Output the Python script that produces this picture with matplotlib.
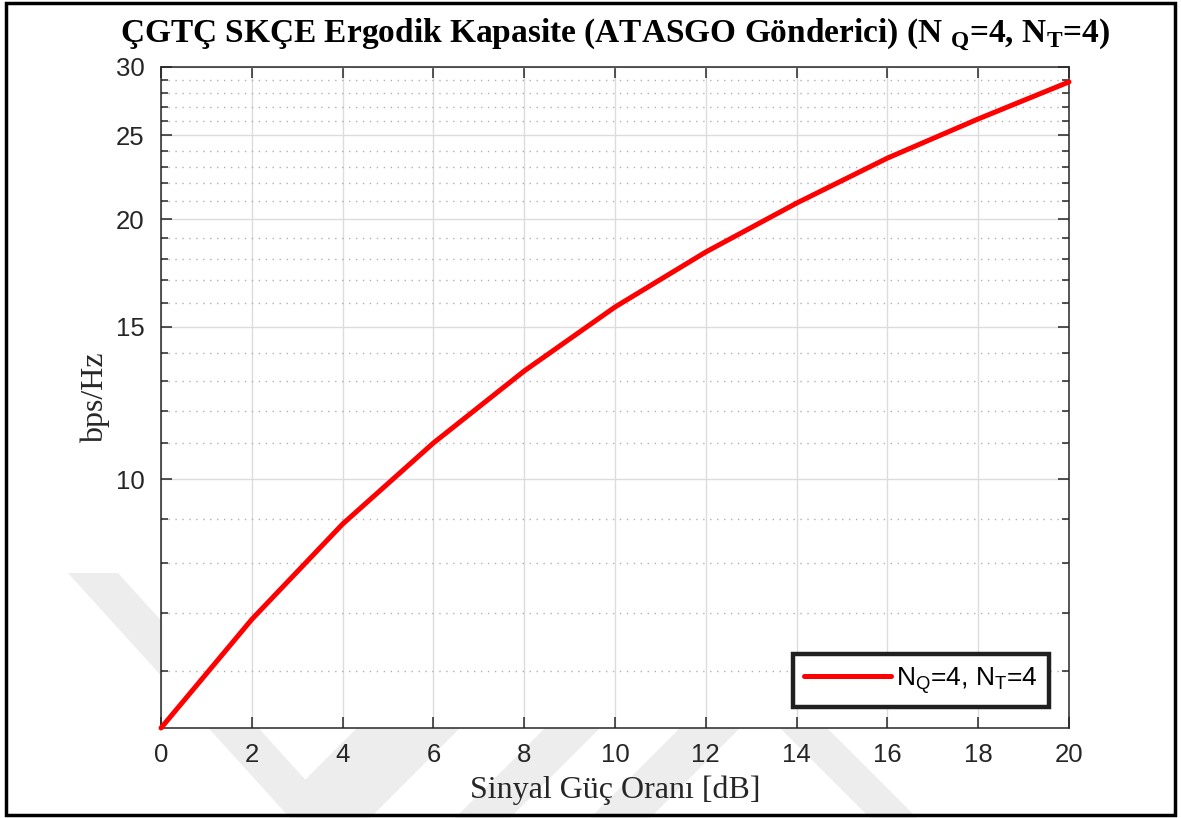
import matplotlib
matplotlib.use('Agg')
import matplotlib.pyplot as plt
from matplotlib.patches import Polygon, Rectangle
from matplotlib.ticker import FixedLocator, NullFormatter

plt.rcParams['mathtext.fontset'] = 'custom'
plt.rcParams['mathtext.rm'] = 'Liberation Serif'
plt.rcParams['mathtext.bf'] = 'Liberation Serif:bold'
plt.rcParams['mathtext.sf'] = 'Liberation Sans'

# data
snr_db = [0, 2, 4, 6, 8, 10, 12, 14, 16, 18, 20]
capacity = [5.15, 6.88, 8.87, 11.01, 13.34, 15.82, 18.32, 20.87, 23.53, 26.12, 28.83]
y_major = [10, 15, 20, 25, 30]
y_minor = [6, 7, 8, 9, 11, 12, 13, 14, 16, 17, 18, 19, 21, 22, 23, 24, 26, 27, 28, 29]
x_ticks = [0, 2, 4, 6, 8, 10, 12, 14, 16, 18, 20]

W, H = 1181, 818
fig = plt.figure(figsize=(W / 100, H / 100), dpi=100)


def px(pts):
    # pixel coords (y down) -> figure fraction
    return [(x / W, 1 - y / H) for x, y in pts]


# faint watermark behind the axes
wm = '#ededed'
shapes = [
    [(68, 573), (118, 573), (340, 818), (290, 818)],
    [(300, 785), (545, 540), (600, 540), (335, 818)],
    [(400, 728), (460, 728), (370, 818), (310, 818)],
    [(545, 728), (600, 728), (510, 818), (455, 818)],
    [(680, 728), (740, 728), (650, 818), (590, 818)],
    [(780, 728), (827, 728), (917, 818), (870, 818)],
]
for s in shapes:
    fig.patches.append(Polygon(px(s), closed=True, transform=fig.transFigure,
                               color=wm, lw=0, zorder=-5))

ax = fig.add_axes([161 / W, 1 - 728 / H, (1069 - 161) / W, (728 - 67) / H])
ax.set_facecolor('white')
ax.plot(snr_db, capacity, color='red', lw=3.6, label=r'N$_\mathsf{Q}$=4, N$_\mathsf{T}$=4',
        solid_capstyle='round', zorder=3, clip_on=False)

ax.set_yscale('log')
ax.set_xlim(0, 20)
ax.set_ylim(min(capacity), 30)
ax.set_xticks(x_ticks)
ax.yaxis.set_major_locator(FixedLocator(y_major))
ax.yaxis.set_minor_locator(FixedLocator(y_minor))
ax.yaxis.set_minor_formatter(NullFormatter())
ax.set_yticklabels([str(v) for v in y_major])

ax.grid(True, which='major', color='#dcdcdc', lw=1.0)
ax.grid(True, which='minor', axis='y', color='#b0b0b0', lw=1.0, ls=(0, (1, 4)))
ax.tick_params(which='both', direction='in', top=True, right=True, colors='#262626',
               labelsize=18.5, labelfontfamily='Liberation Sans', width=1.1)
ax.tick_params(which='major', length=8)
ax.tick_params(which='minor', length=5)
ax.tick_params(axis='x', pad=11)
ax.tick_params(axis='y', pad=12)
for s in ax.spines.values():
    s.set_color('#262626')
    s.set_linewidth(1.1)

ax.set_xlabel('Sinyal Güç Oranı [dB]', fontfamily='Liberation Serif', fontsize=23,
              color='#262626', labelpad=6)
ax.set_ylabel('bps/Hz', fontfamily='Liberation Serif', fontsize=23, color='#262626', labelpad=4)
ax.set_title(r'ÇGTÇ SKÇE Ergodik Kapasite (ATASGO Gönderici) (N $_\mathbf{Q}$=4, N$_\mathbf{T}$=4)',
             fontfamily='Liberation Serif', fontweight='bold', fontsize=24, pad=18)

leg = ax.legend(loc='lower right', prop={'family': 'Liberation Sans', 'size': 19},
                handlelength=3.3, handletextpad=0.2, fancybox=False, framealpha=1,
                borderpad=0.4, bbox_to_anchor=(0.992, 0.0125))
leg.get_frame().set_edgecolor('#202020')
leg.get_frame().set_linewidth(3.2)

# outer border of the figure
fig.patches.append(Rectangle((0.005, 0.004), 0.99, 0.992, transform=fig.transFigure,
                             fill=False, edgecolor='black', lw=2.5, zorder=5))

fig.savefig('out.png', dpi=100)
